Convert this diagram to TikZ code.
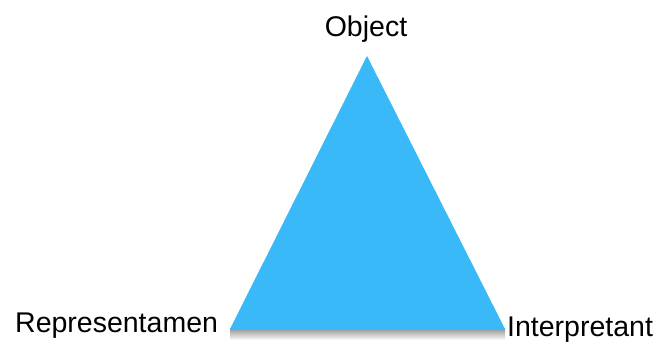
\documentclass[tikz,border=0pt]{standalone}
\usepackage{fontspec}
\setmainfont{Liberation Sans}
\usepackage{xcolor}
\usetikzlibrary{positioning}
\definecolor{signblue}{RGB}{58,185,248}
\tikzstyle{corner} = [font=\fontsize{28.5}{34}\selectfont, inner sep=0pt]

\begin{document}
\begin{tikzpicture}[x=1pt, y=1pt]
        \useasboundingbox (0,0) rectangle (658,342);

        % Vertices of the sign triangle
        \coordinate (obj) at (367,286);
        \coordinate (rep) at (230,13);
        \coordinate (int) at (505,13);

        % Soft shadow under the base
        \shade[top color=black!40, bottom color=white] ([yshift=-11pt]rep) rectangle (int);

        % Triangle
        \fill[signblue] (rep) -- (obj) -- (int) -- cycle;

        % Corner labels
        \node[corner, anchor=base] (object) at (366,305) {Object};
        \node[corner, anchor=base west] (representamen) at (15,9) {Representamen};
        \node[corner, anchor=base west] (interpretant) at (507,5.5) {Interpretant};

    \end{tikzpicture}
\end{document}
